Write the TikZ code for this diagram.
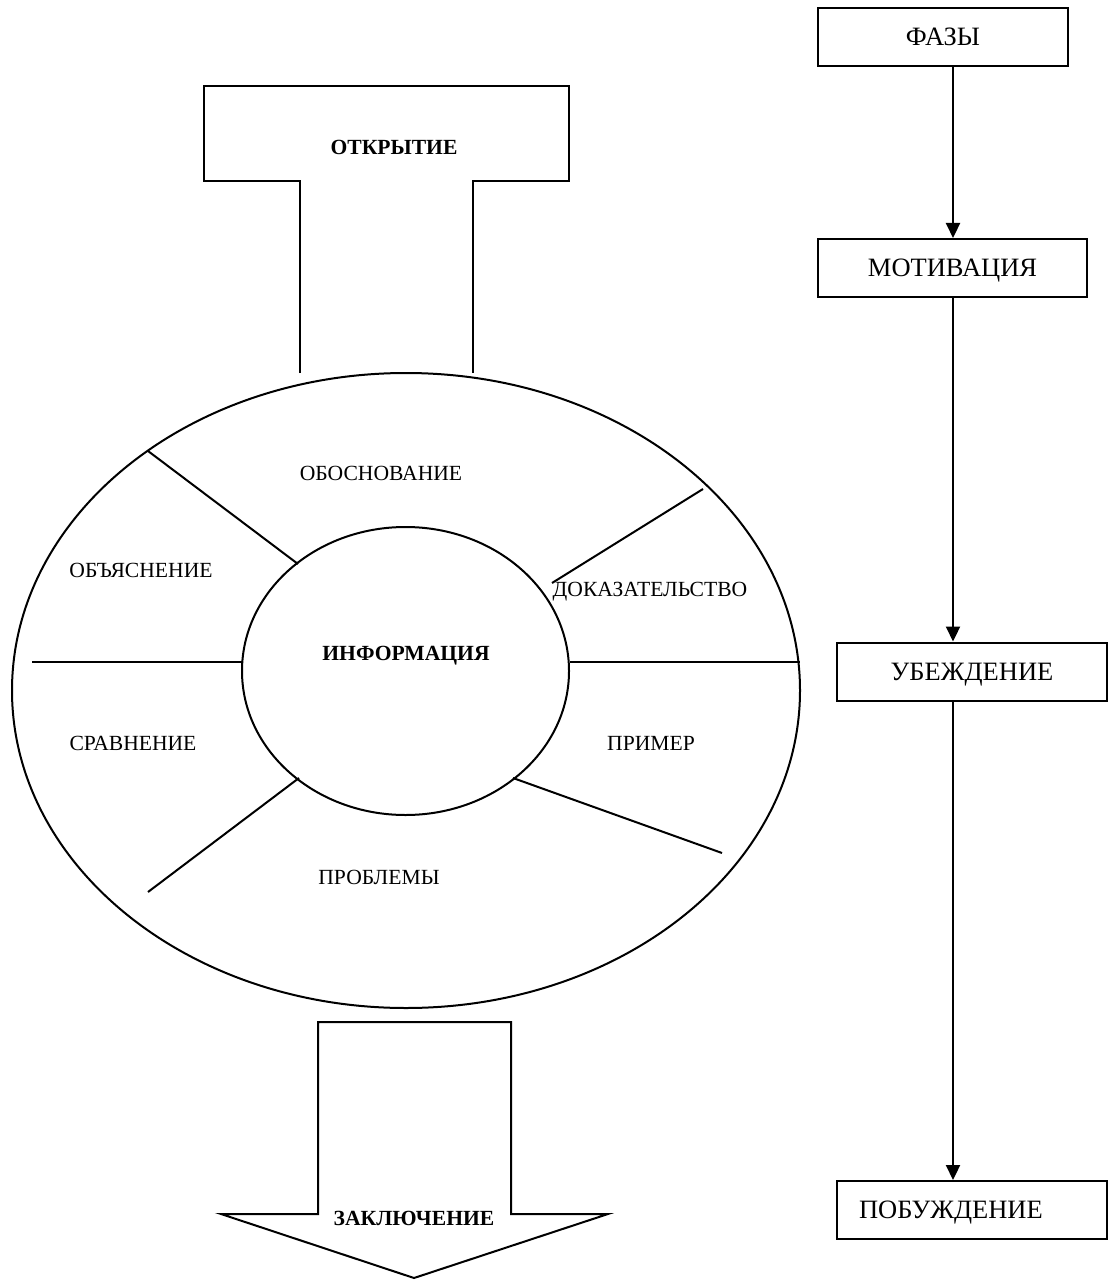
\documentclass[tikz,border=0pt]{standalone}
\usepackage{fontspec}
\setmainfont{Liberation Serif}
\usetikzlibrary{arrows.meta,shapes.geometric}
\begin{document}
\begin{tikzpicture}[x=1pt,y=-1pt,
  line width=2pt, line join=miter,
  lbl/.style={inner sep=0pt, font=\fontsize{21.6}{26}\selectfont, text height=14pt, text depth=0pt},
  blbl/.style={lbl, font=\fontsize{21.6}{26}\selectfont\bfseries},
  phase/.style={draw, inner sep=0pt, minimum height=58pt, font=\fontsize{26.5}{31}\selectfont, text height=17pt, text depth=0pt},
  arr/.style={-{Triangle[length=15pt,width=14pt]}, line width=2.2pt}
]
\useasboundingbox (0,0) rectangle (1116,1281);

% outer ellipse and inner ellipse
\node[draw, ellipse, inner sep=0pt, minimum width=788pt, minimum height=635pt] (outer) at (406,690.5) {};
\node[draw, ellipse, inner sep=0pt, minimum width=327pt, minimum height=288pt] (inner) at (405.5,671) {};

% spokes
\draw (32,662) -- (242,662);
\draw (570,662) -- (800,662);
\draw (148,451) -- (298,564);
\draw (703,489) -- (552,583);
\draw (299,778) -- (148,892);
\draw (513,778) -- (722,853);

% labels in ring
\node[lbl] (obosn) at (381,473) {ОБОСНОВАНИЕ};
\node[lbl] (obyas) at (141,570) {ОБЪЯСНЕНИЕ};
\node[lbl] (dokaz) at (650,589) {ДОКАЗАТЕЛЬСТВО};
\node[blbl] (info) at (406,653) {ИНФОРМАЦИЯ};
\node[lbl] (sravn) at (133,743) {СРАВНЕНИЕ};
\node[lbl] (primer) at (651,743) {ПРИМЕР};
\node[lbl] (probl) at (379,877) {ПРОБЛЕМЫ};

% opening T shape
\draw (300,373) -- (300,181) -- (204,181) -- (204,86) -- (569,86) -- (569,181) -- (473,181) -- (473,373);
\node[blbl] (otkr) at (394,148) {ОТКРЫТИЕ};

% conclusion arrow
\draw (318,1214) -- (318,1022) -- (511,1022) -- (511,1214) -- (608,1214) -- (414,1278) -- (221,1214) -- cycle;
\node[blbl] (zakl) at (414,1218) {ЗАКЛЮЧЕНИЕ};

% phases column
\node[phase, minimum width=250pt] (fazy) at (943,37) {ФАЗЫ};
\node[phase, minimum width=269pt] (motiv) at (952.5,268) {МОТИВАЦИЯ};
\node[phase, minimum width=270pt] (ubezh) at (972,671.5) {УБЕЖДЕНИЕ};
\node[phase, text width=226pt, align=left, inner xsep=22pt] (pobuzh) at (972,1210) {ПОБУЖДЕНИЕ};
\coordinate (axis) at (953,0);

\draw[arr] (axis |- fazy.south) -- (axis |- motiv.north);
\draw[arr] (axis |- motiv.south) -- (axis |- ubezh.north);
\draw[arr] (axis |- ubezh.south) -- (axis |- pobuzh.north);
\end{tikzpicture}
\end{document}
